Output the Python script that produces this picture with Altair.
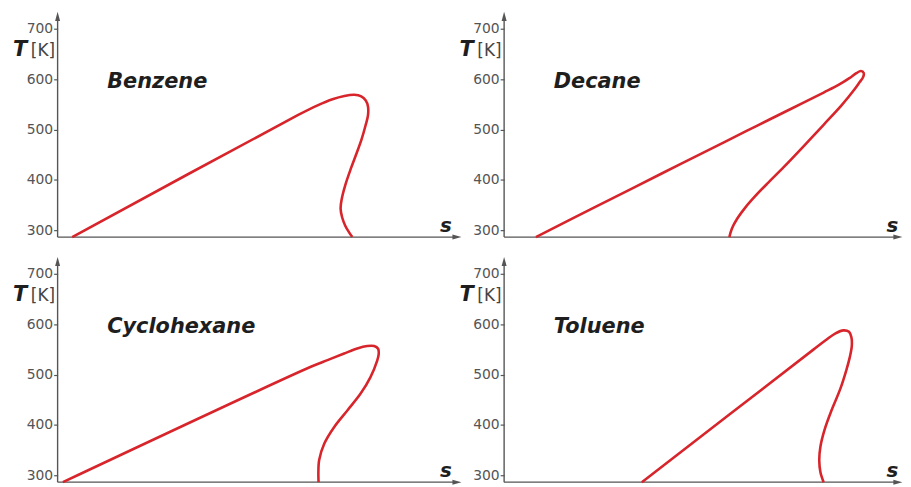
import altair as alt
import pandas as pd

RED = "#d7252b"
AXIS = "#555555"
TEXT = "#1e1e1e"
FONT = "DejaVu Sans"

S_MAX = 100
T_MIN, T_MAX = 286, 720
T_TICKS = [300, 400, 500, 600, 700]

# Saturation curves (s in arbitrary units, T in K)
benzene_s = [3.68, 60.5, 65.5, 69.25, 72.25, 74.75, 76.5, 77.6, 78.2, 78.2, 77.6, 76.6,
             75.4, 73.9, 72.5, 71.6, 71.3, 71.7, 72.5, 73.4, 74.25]
benzene_T = [286, 528.3, 547.8, 560, 566.5, 568.9, 565.9, 558, 545.8, 528, 508.3, 480.7,
             454.1, 422.5, 390, 362.3, 342.6, 324.9, 308.1, 296, 286]

decane_s = [8.0, 23.0, 39.7, 55.5, 63.8, 72.2, 80.5, 84.25, 87.0, 88.75, 89.9, 90.6, 90.45,
            89.6, 88.25, 85.0, 80.5, 75.5, 70.5, 66.5, 63.25, 60.75, 58.75, 57.4, 56.75]
decane_T = [286, 346, 412.4, 474.8, 507.8, 540.7, 573.4, 588.6, 602, 611.9, 616.2, 612.3, 604,
            594.2, 579.3, 547.8, 509.3, 466.9, 425.5, 393.9, 367.3, 344.6, 322.9, 303.2, 286]

cyclohexane_s = [1.33, 63.8, 68.0, 72.2, 75.5, 78.0, 79.75, 80.75, 80.9, 80.5, 78.8, 76.3,
                 73.0, 69.7, 67.2, 65.9, 65.7, 65.75]
cyclohexane_T = [286, 515.4, 528.7, 541.9, 551.9, 556.7, 556.7, 551.3, 540.5, 527.3, 494.5,
                 461.6, 428.6, 395.9, 362.9, 330, 303.8, 286]

toluene_s = [34.7, 78.0, 81.0, 83.5, 85.5, 86.9, 87.5, 87.6, 87.1, 86.3, 84.7, 82.5, 80.75,
             79.7, 79.4, 79.7, 80.5]
toluene_T = [286, 550, 568.1, 581.9, 587.8, 584.9, 574, 556.9, 534.6, 510.9, 471.4, 429,
             390.6, 357, 329.4, 305.7, 286]

names = ["Benzene", "Decane", "Cyclohexane", "Toluene"]
series = [(benzene_s, benzene_T), (decane_s, decane_T),
          (cyclohexane_s, cyclohexane_T), (toluene_s, toluene_T)]
# the right-hand panels run into the picture's edge: their arrow sits a bit earlier
arrow_at = [100, 98.6, 100, 98.6]

UP_ARROW = "M0,-1L0.36,0.3L-0.36,0.3Z"
RIGHT_ARROW = "M1,0L-0.3,0.36L-0.3,-0.36Z"


def panel(name, s_vals, t_vals, arrow_s):
    xs = alt.Scale(domain=[0, S_MAX], nice=False, zero=False)
    ys = alt.Scale(domain=[T_MIN, T_MAX], nice=False, zero=False)
    df = pd.DataFrame({"s": s_vals, "T": t_vals, "i": list(range(len(s_vals)))})
    one = pd.DataFrame({"k": [0]})

    yrule = alt.Chart(one).mark_rule(color=AXIS, strokeWidth=1.4).encode(
        x=alt.XDatum(0, scale=xs, axis=None),
        y=alt.YDatum(T_MIN, scale=ys, axis=alt.Axis(
            values=T_TICKS, domain=False, grid=False, ticks=True, tickSize=4,
            tickColor=AXIS, tickWidth=1.2, labelColor="#555555", labelFont=FONT,
            labelFontSize=14, labelPadding=1, labelFlush=False, labelOverlap=False,
            title=None)),
        y2=alt.datum(T_MAX),
    )
    xrule = alt.Chart(one).mark_rule(color=AXIS, strokeWidth=1.4).encode(
        x=alt.XDatum(0, axis=None), x2=alt.datum(arrow_s),
        y=alt.YDatum(T_MIN),
    )
    yarrow = alt.Chart(one).mark_point(
        shape=UP_ARROW, filled=True, size=196, color=AXIS, opacity=1, strokeWidth=0
    ).encode(x=alt.XDatum(0, axis=None), y=alt.YDatum(T_MAX))
    xarrow = alt.Chart(one).mark_point(
        shape=RIGHT_ARROW, filled=True, size=196, color=AXIS, opacity=1, strokeWidth=0
    ).encode(x=alt.XDatum(arrow_s, axis=None), y=alt.YDatum(T_MIN))

    curve = alt.Chart(df).mark_line(
        color=RED, strokeWidth=2.6, interpolate="catmull-rom"
    ).encode(
        x=alt.X("s:Q", axis=None),
        y=alt.Y("T:Q"),
        order="i:Q",
    )

    t_label = alt.Chart(one).mark_text(
        text="T", font=FONT, fontSize=21, fontStyle="italic", fontWeight="bold",
        align="left", baseline="alphabetic", color=TEXT
    ).encode(x=alt.value(-45), y=alt.YDatum(646))
    k_label = alt.Chart(one).mark_text(
        text="[K]", font=FONT, fontSize=17, align="left", baseline="alphabetic",
        color="#444444"
    ).encode(x=alt.value(-27), y=alt.YDatum(646))
    s_label = alt.Chart(one).mark_text(
        text="s", font=FONT, fontSize=20, fontStyle="italic", fontWeight="bold",
        align="right", baseline="alphabetic", color=TEXT
    ).encode(x=alt.XDatum(99.3, axis=None), y=alt.YDatum(297))
    title = alt.Chart(one).mark_text(
        text=name, font=FONT, fontSize=21, fontStyle="italic", fontWeight="bold",
        align="left", baseline="alphabetic", color=TEXT
    ).encode(x=alt.XDatum(12.5, axis=None), y=alt.YDatum(583))

    return alt.layer(
        yrule, xrule, curve, yarrow, xarrow, t_label, k_label, s_label, title
    ).properties(width=400, height=220)


panels = [panel(n, s, t, a) for n, (s, t), a in zip(names, series, arrow_at)]

chart = alt.concat(
    *panels, columns=2, spacing={"row": 27, "column": 50}, bounds="flush"
).properties(
    padding={"left": 5, "top": 2, "right": 0, "bottom": 0},
    background="white",
).configure_view(stroke=None)

chart.save("out.html", embed_options={"renderer": "svg", "actions": False})
